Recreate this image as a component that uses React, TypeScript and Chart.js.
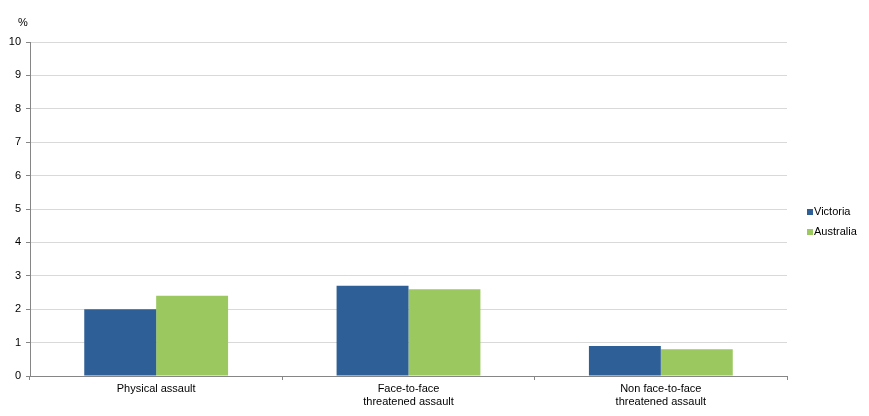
import React, { useEffect, useRef } from "react";
import { Chart, registerables } from "chart.js";

Chart.register(...registerables);

const categories: string[][] = [
  ["Physical assault"],
  ["Face-to-face", "threatened assault"],
  ["Non face-to-face", "threatened assault"],
];
const victoria = [2.0, 2.7, 0.9];
const australia = [2.4, 2.6, 0.8];
const seriesNames = ["Victoria", "Australia"];
const seriesColors = ["#2f5f97", "#9bc95f"];
const yTitle = "%";
const yMin = 0;
const yMax = 10;
const yStep = 1;

const FONT = "'Liberation Sans', Arial, sans-serif";

export default function App() {
  const ref = useRef<HTMLCanvasElement | null>(null);

  useEffect(() => {
    if (!ref.current) return;
    const extras = {
      id: "extras",
      afterDraw(chart: any) {
        const ctx = chart.ctx;
        const area = chart.chartArea;
        ctx.save();
        ctx.font = `11px ${FONT}`;
        ctx.fillStyle = "#000";
        ctx.textBaseline = "middle";
        ctx.textAlign = "left";
        ctx.fillText(yTitle, area.left - 12, 23);
        const lx = area.right + 20;
        const cy = (area.top + area.bottom) / 2;
        seriesNames.forEach((name, i) => {
          const y = cy + 3 + i * 20;
          ctx.fillStyle = seriesColors[i];
          ctx.fillRect(lx, y - 3, 6, 6);
          ctx.fillStyle = "#000";
          ctx.fillText(name, lx + 7, y);
        });
        ctx.restore();
      },
    };
    const chart = new Chart(ref.current, {
      type: "bar",
      data: {
        labels: categories,
        datasets: [
          { label: seriesNames[0], data: victoria, backgroundColor: seriesColors[0] },
          { label: seriesNames[1], data: australia, backgroundColor: seriesColors[1] },
        ],
      },
      options: {
        animation: false,
        responsive: false,
        maintainAspectRatio: false,
        layout: { padding: { top: 42, right: 82, left: 0, bottom: 0 } },
        datasets: { bar: { barPercentage: 1, categoryPercentage: 0.57 } },
        plugins: { legend: { display: false }, tooltip: { enabled: false } },
        scales: {
          x: {
            grid: {
              drawOnChartArea: false,
              drawTicks: true,
              tickLength: 4,
              tickColor: "#868686",
              offset: true,
            },
            border: { color: "#868686" },
            ticks: {
              color: "#000",
              font: { family: FONT, size: 11 },
              padding: 2,
              maxRotation: 0,
            },
            afterFit(scale: any) {
              scale.height = 40;
            },
          },
          y: {
            min: yMin,
            max: yMax,
            grid: { color: "#d9d9d9", tickLength: 4, tickColor: "#868686" },
            border: { color: "#868686" },
            ticks: {
              stepSize: yStep,
              color: "#000",
              font: { family: FONT, size: 11 },
              padding: 5,
            },
            afterFit(scale: any) {
              scale.width = 30;
            },
          },
        },
      },
      plugins: [extras],
    });
    return () => chart.destroy();
  }, []);

  return (
    <div style={{ position: "fixed", left: 0, top: 0, width: 869, height: 416, background: "#fff" }}>
      <canvas ref={ref} width={869} height={416} style={{ width: 869, height: 416 }} />
    </div>
  );
}
